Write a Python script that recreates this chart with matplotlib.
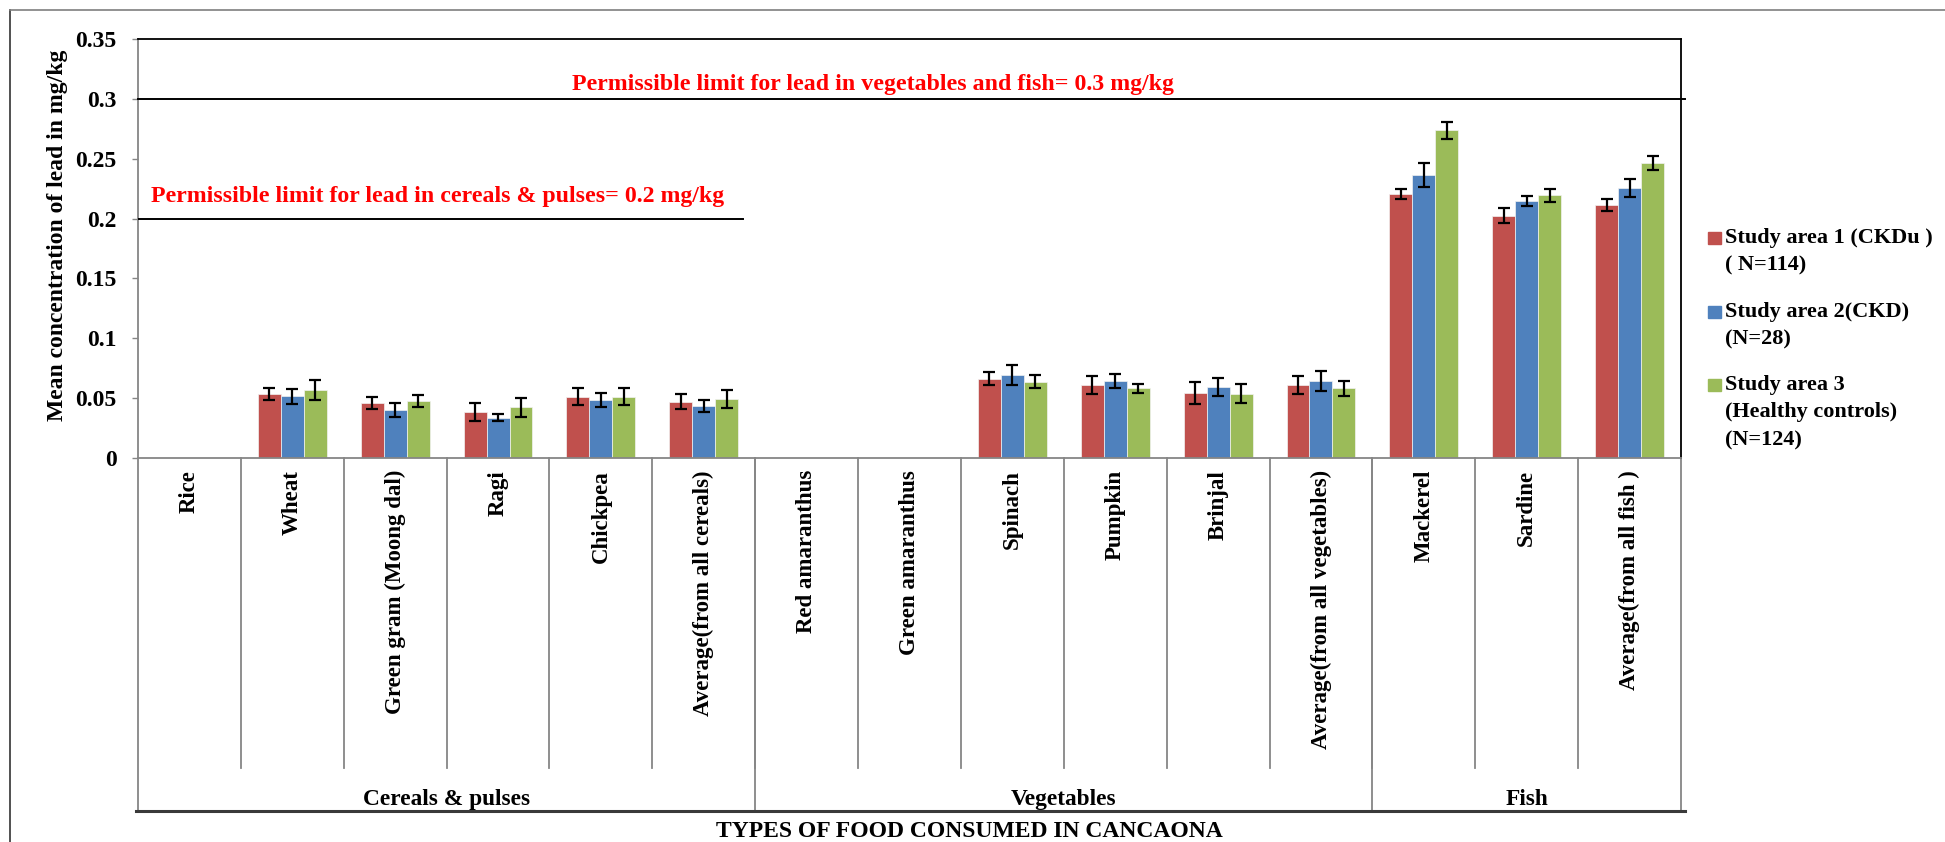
import numpy as np
import matplotlib
matplotlib.use('Agg')
import matplotlib.pyplot as plt
from matplotlib.patches import Rectangle

# === DATA ===
foods = ['Rice', 'Wheat', 'Green gram (Moong dal)', 'Ragi', 'Chickpea',
         'Average(from all cereals)', 'Red amaranthus', 'Green amaranthus',
         'Spinach', 'Pumpkin', 'Brinjal', 'Average(from all vegetables)',
         'Mackerel', 'Sardine', 'Average(from all fish )']
groups = ['Cereals & pulses', 'Vegetables', 'Fish']
group_sizes = [6, 6, 3]

series_names = ['Study area 1 (CKDu )\n( N=114)',
                'Study area 2(CKD)\n(N=28)',
                'Study area 3\n(Healthy controls)\n(N=124)']

area1 = [0, 0.0535, 0.0463, 0.0385, 0.0513, 0.0471, 0, 0,
         0.0664, 0.0608, 0.0544, 0.0608, 0.2206, 0.2024, 0.2114]
area1_err = [0, 0.0052, 0.0050, 0.0078, 0.0071, 0.0060, 0, 0,
             0.0052, 0.0073, 0.0091, 0.0073, 0.0042, 0.0064, 0.0052]
area2 = [0, 0.0516, 0.0404, 0.0338, 0.0485, 0.0435, 0, 0,
         0.0694, 0.0644, 0.0594, 0.0644, 0.2365, 0.2144, 0.2256]
area2_err = [0, 0.0061, 0.0059, 0.0031, 0.0061, 0.0052, 0, 0,
             0.0081, 0.0061, 0.0073, 0.0082, 0.0102, 0.0042, 0.0073]
area3 = [0, 0.0566, 0.0474, 0.0424, 0.0513, 0.0494, 0, 0,
         0.0636, 0.0583, 0.0538, 0.0583, 0.2738, 0.2195, 0.2465]
area3_err = [0, 0.0084, 0.0050, 0.0079, 0.0071, 0.0075, 0, 0,
             0.0054, 0.0039, 0.0081, 0.0064, 0.0071, 0.0053, 0.0061]

limit_cereals = 0.2
limit_veg_fish = 0.3

colors = ['#C0504D', '#4F81BD', '#9BBB59']

# === FIGURE ===
W, H = 1945, 842
fig = plt.figure(figsize=(W / 100, H / 100), dpi=100)
FONT = 'Liberation Serif'
plt.rcParams['font.family'] = FONT
plt.rcParams['font.weight'] = 'bold'

def fx(px):
    return px / W

def fy(py):
    return 1 - py / H

ax = fig.add_axes([fx(138), fy(458), fx(1681) - fx(138), fy(39) - fy(458)])

x = np.arange(len(foods))
bw = 0.223
for k, (vals, errs) in enumerate([(area1, area1_err), (area2, area2_err), (area3, area3_err)]):
    pos = x + (k - 1) * bw
    ax.bar(pos, vals, bw, color=colors[k], edgecolor='#f2f2f2', linewidth=0.5, zorder=2)
    vals = np.array(vals)
    errs = np.array(errs)
    m = vals > 0
    ax.errorbar(pos[m], vals[m], yerr=errs[m], fmt='none', ecolor='black',
                elinewidth=1.6, capsize=4.6, capthick=1.6, zorder=3)

ax.set_xlim(-0.5, len(foods) - 0.5)
ax.set_ylim(0, 0.35)
ax.set_yticks(np.arange(0, 0.351, 0.05))
ax.set_yticklabels(['0', '0.05', '0.1', '0.15', '0.2', '0.25', '0.3', '0.35'],
                   fontsize=17, fontweight='bold', family=FONT)
ax.tick_params(axis='y', length=4.5, width=1, color='#868686', pad=11)
ax.set_xticks([])

for s in ['left', 'bottom']:
    ax.spines[s].set_color('#868686')
    ax.spines[s].set_linewidth(1.3)
for s in ['top', 'right']:
    ax.spines[s].set_color('black')
    ax.spines[s].set_linewidth(1.3)

# permissible limit lines
ax.plot([-0.5, len(foods) - 0.46], [limit_veg_fish, limit_veg_fish], color='black',
        lw=1.4, clip_on=False, zorder=4)
ax.plot([-0.5, 5.38], [limit_cereals, limit_cereals], color='black', lw=1.4, zorder=4)

fig.text(fx(572), fy(90), 'Permissible limit for lead in vegetables and fish= 0.3 mg/kg',
         color='red', fontsize=17.2, fontweight='bold', va='baseline', ha='left')
fig.text(fx(151), fy(202), 'Permissible limit for lead in cereals & pulses= 0.2 mg/kg',
         color='red', fontsize=17.2, fontweight='bold', va='baseline', ha='left')

# category table below the axis
tr = ax.get_xaxis_transform()
ax_h = 458 - 39
y_sep = -(768 - 458) / ax_h
y_bot = -(811 - 458) / ax_h
y_lab = -(470 - 458) / ax_h
y_grp = -(805 - 458) / ax_h

bounds = np.cumsum(group_sizes)
for b in np.arange(0.5, len(foods) - 1, 1.0):
    ax.plot([b, b], [0, y_sep], transform=tr, color='#868686', lw=1.3, clip_on=False)
for b in [-0.5] + [c - 0.5 for c in bounds]:
    ax.plot([b, b], [0, y_bot], transform=tr, color='#868686', lw=1.3, clip_on=False)
ax.plot([-0.52, len(foods) - 0.46], [y_bot, y_bot], transform=tr, color='#3a3a3a',
        lw=2.2, clip_on=False)

for i, name in enumerate(foods):
    ax.text(i, y_lab, name, transform=tr, rotation=90, ha='center', va='top',
            fontsize=16.5, fontweight='bold')

start = 0
for g, n in zip(groups, group_sizes):
    ax.text(start + (n - 1) / 2, y_grp, g, transform=tr, ha='center', va='baseline',
            fontsize=16.8, fontweight='bold')
    start += n

fig.text(fx(969), fy(837), 'TYPES OF FOOD CONSUMED IN CANCAONA', ha='center',
         va='baseline', fontsize=17, fontweight='bold')
fig.text(fx(58), fy(235), 'Mean concentration of lead in mg/kg', rotation=90,
         ha='center', va='center', fontsize=17, fontweight='bold')

# legend
leg_rows = [238, 312, 385]
for k, name in enumerate(series_names):
    y0 = leg_rows[k]
    fig.patches.append(Rectangle((fx(1708), fy(y0 + 6)), fx(13), 12 / H,
                                 transform=fig.transFigure, color=colors[k]))
    for j, line in enumerate(name.split('\n')):
        fig.text(fx(1725), fy(y0 + j * 27.5), line, ha='left', va='center',
                 fontsize=16, fontweight='bold')

# outer frame
fig.add_artist(plt.Line2D([fx(10), fx(10)], [0, fy(9.5)], transform=fig.transFigure,
                          color='#333333', lw=1.2))
fig.add_artist(plt.Line2D([fx(10), 1], [fy(9.5), fy(9.5)], transform=fig.transFigure,
                          color='#7f7f7f', lw=1.2))

fig.savefig('out.png', dpi=100)
